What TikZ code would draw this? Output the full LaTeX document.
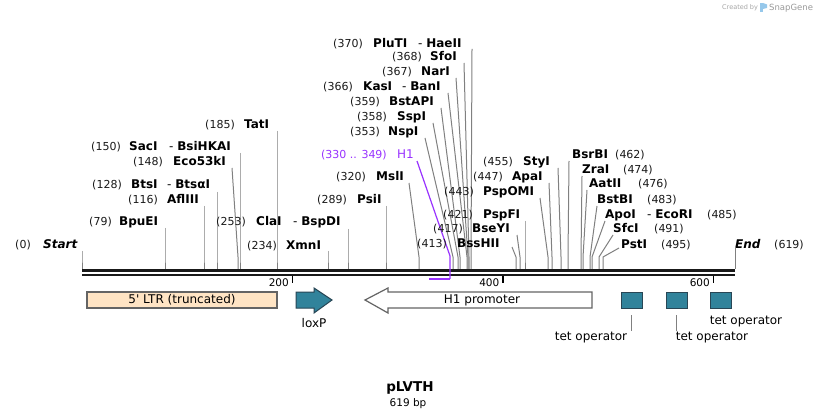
\documentclass[tikz,border=0pt]{standalone}
\usepackage{fontspec}
\setmainfont{DejaVu Sans}
\newfontfamily\plainfont[Ligatures=TeXOff]{DejaVu Sans}
\definecolor{cutgray}{RGB}{128,128,128}
\definecolor{tealf}{RGB}{49,131,155}
\definecolor{tealb}{RGB}{40,70,85}
\definecolor{ltrfill}{RGB}{255,228,196}
\definecolor{fborder}{RGB}{100,100,100}
\definecolor{purp}{RGB}{153,51,255}
\definecolor{numc}{RGB}{25,25,25}
\definecolor{logoblue}{RGB}{150,200,235}
\newcommand\cutl[4]{%
  \coordinate (t#1) at (#2,#3);
  \coordinate (k#1) at (#4,257);
  \coordinate (b#1) at (#4,269);
  \draw[cut] (t#1) -- (k#1) -- (b#1);}
\tikzset{
  num/.style={font=\fontsize{11}{12}\selectfont, inner sep=0pt, text=numc},
  enz/.style={font=\fontsize{12}{13}\bfseries\selectfont, inner sep=0pt},
  enzi/.style={font=\fontsize{12}{13}\bfseries\itshape\selectfont, inner sep=0pt},
  cut/.style={draw=cutgray, line width=1pt},
  bb/.style={draw=black!90, line width=2.8pt},
  tick/.style={draw=black, line width=1.5pt},
  ticklab/.style={font=\fontsize{10.5}{12}\selectfont, inner sep=0pt},
  flab/.style={font=\fontsize{12}{14}\selectfont, inner sep=0pt},
  featbox/.style={draw=fborder, line width=1.2pt},
  tealbox/.style={draw=tealb, fill=tealf, line width=1pt},
}
\begin{document}
\begin{tikzpicture}[x=1pt,y=-1pt]
\useasboundingbox (0,0) rectangle (818,419);
\fill[white] (0,0) rectangle (818,419);

% watermark
\node[font=\fontsize{6.5}{7}\selectfont, text=black!35, anchor=base west, inner sep=0] (wm1) at (722,10) {Created by};
\fill[logoblue] (760,3) rectangle (763,12);
\fill[logoblue] (763,3) -- (767,4.5) -- (767,8) -- (763,9) -- cycle;
\node[font=\fontsize{8.5}{9}\selectfont, text=black!40, anchor=base west, inner sep=0] (wm2) at (769,10.5) {SnapGene};

% backbone
\draw[bb] (82,270.4) -- (735,270.4);
\draw[bb] (82,275) -- (735,275);
% ticks
\draw[tick] (292.5,276) -- (292.5,283);
\node[ticklab, anchor=base east] (tk200) at (289,287) {200};
\draw[tick] (503,276) -- (503,283);
\node[ticklab, anchor=base east] (tk400) at (499.5,287) {400};
\draw[tick] (713.5,276) -- (713.5,283);
\node[ticklab, anchor=base east] (tk600) at (710,287) {600};

% ---- labels, left side
\node[num, anchor=base east] (n0) at (31,249) {(0)};
\node[enzi, anchor=base west] (e0) at (43,249) {Start};
\cutl{0}{82}{251}{82}
\node[num, anchor=base east] (n1) at (112,226) {(79)};
\node[enz, anchor=base west] (e1) at (119,226) {BpuEI};
\cutl{1}{165}{228}{165}
\node[num, anchor=base east] (n2) at (158,204) {(116)};
\node[enz, anchor=base west] (e2) at (167,204) {AflIII};
\cutl{2}{204}{206}{204}
\node[num, anchor=base east] (n3) at (122,189) {(128)};
\node[enz, anchor=base west] (e3) at (131,189) {BtsI};
\node[enz, anchor=base west] (e3b) at (167,189) {\mdseries -\ \bfseries BtsαI};
\cutl{3}{217}{192}{217}
\node[num, anchor=base east] (n4) at (163,166) {(148)};
\node[enz, anchor=base west] (e4) at (173,166) {Eco53kI};
\cutl{4}{232}{168}{238}
\node[num, anchor=base east] (n5) at (121,151) {(150)};
\node[enz, anchor=base west] (e5) at (129,151) {SacI};
\node[enz, anchor=base west] (e5b) at (169,151) {\mdseries -\ \bfseries BsiHKAI};
\cutl{5}{240}{153}{240}
\node[num, anchor=base east] (n6) at (235,129) {(185)};
\node[enz, anchor=base west] (e6) at (244,129) {TatI};
\cutl{6}{277}{131}{277}
\node[num, anchor=base east] (n7) at (246,226) {(253)};
\node[enz, anchor=base west] (e7) at (256,226) {ClaI};
\node[enz, anchor=base west] (e7b) at (293,226) {\mdseries -\ \bfseries BspDI};
\cutl{7}{348}{229}{348}
\node[num, anchor=base east] (n8) at (277,250) {(234)};
\node[enz, anchor=base west] (e8) at (286,250) {XmnI};
\cutl{8}{328}{251}{328}
\node[num, anchor=base east] (n9) at (347,204) {(289)};
\node[enz, anchor=base west] (e9) at (357,204) {PsiI};
\cutl{9}{386}{206}{386}
\node[num, anchor=base east] (n10) at (366,181) {(320)};
\node[enz, anchor=base west] (e10) at (376,181) {MslI};
\cutl{10}{409}{183}{419}
% H1 feature (purple)
\node[num, text=purp, anchor=base east] (nh1) at (387,159) {(330 .. 349)};
\node[flab, text=purp, anchor=base west] (eh1) at (397,159) {H1};
\coordinate (th1) at (417,161);
\coordinate (kh1) at (450,256);
\coordinate (bh1) at (450,279);
\coordinate (sh1) at (429,279);
\draw[purp, line width=1.2pt] (th1) -- (kh1) -- (bh1);
\draw[purp, line width=2pt] (bh1) -- (sh1);

% top cluster
\node[num, anchor=base east] (n11) at (380,136) {(353)};
\node[enz, anchor=base west] (e11) at (388,136) {NspI};
\cutl{11}{425}{138}{453}
\node[num, anchor=base east] (n12) at (387,121) {(358)};
\node[enz, anchor=base west] (e12) at (397,121) {SspI};
\cutl{12}{433}{123}{458}
\node[num, anchor=base east] (n13) at (380,106) {(359)};
\node[enz, anchor=base west] (e13) at (389,106) {BstAPI};
\cutl{13}{441}{108}{460}
\node[num, anchor=base east] (n14) at (353,91) {(366)};
\node[enz, anchor=base west] (e14) at (363,91) {KasI};
\node[enz, anchor=base west] (e14b) at (402,91) {\mdseries -\ \bfseries BanI};
\cutl{14}{448}{93}{467}
\node[num, anchor=base east] (n15) at (412,76) {(367)};
\node[enz, anchor=base west] (e15) at (421,76) {NarI};
\cutl{15}{456}{78}{468}
\node[num, anchor=base east] (n16) at (422,61) {(368)};
\node[enz, anchor=base west] (e16) at (430,61) {SfoI};
\cutl{16}{464}{63}{469}
\node[num, anchor=base east] (n17) at (363,48) {(370)};
\node[enz, anchor=base west] (e17) at (373,48) {PluTI};
\node[enz, anchor=base west] (e17b) at (418,48) {\mdseries -\ \bfseries HaeII};
\cutl{17}{472}{49}{471}

% middle-right, number first
\node[num, anchor=base east] (n18) at (447,248) {(413)};
\node[enz, anchor=base west] (e18) at (457,248) {BssHII};
\cutl{18}{512}{247}{516}
\node[num, anchor=base east] (n19) at (463,233) {(417)};
\node[enz, anchor=base west] (e19) at (472,233) {BseYI};
\cutl{19}{517}{235}{520}
\node[num, anchor=base east] (n20) at (473,219) {(421)};
\node[enz, anchor=base west] (e20) at (483,219) {PspFI};
\cutl{20}{525}{221}{525}
\node[num, anchor=base east] (n21) at (474,196) {(443)};
\node[enz, anchor=base west] (e21) at (483,196) {PspOMI};
\cutl{21}{540}{198}{548}
\node[num, anchor=base east] (n22) at (503,181) {(447)};
\node[enz, anchor=base west] (e22) at (512,181) {ApaI};
\cutl{22}{549}{183}{552}
\node[num, anchor=base east] (n23) at (513,166) {(455)};
\node[enz, anchor=base west] (e23) at (523,166) {StyI};
\cutl{23}{558}{168}{561}

% right side, name first
\node[enz, anchor=base west] (e24) at (572,159) {BsrBI};
\node[num, anchor=base west] (n24) at (615,159) {(462)};
\cutl{24}{569}{161}{568}
\node[enz, anchor=base west] (e25) at (582,174) {ZraI};
\node[num, anchor=base west] (n25) at (623,174) {(474)};
\cutl{25}{582}{176}{581}
\node[enz, anchor=base west] (e26) at (589,188) {AatII};
\node[num, anchor=base west] (n26) at (638,188) {(476)};
\cutl{26}{587}{190}{583}
\node[enz, anchor=base west] (e27) at (597,204) {BstBI};
\node[num, anchor=base west] (n27) at (647,204) {(483)};
\cutl{27}{597}{206}{590}
\node[enz, anchor=base west] (e28) at (605,219) {ApoI};
\node[enz, anchor=base west] (e28b) at (647,219) {\mdseries -\ \bfseries EcoRI};
\node[num, anchor=base west] (n28) at (707,219) {(485)};
\cutl{28}{605}{221}{592}
\node[enz, anchor=base west] (e29) at (613,233) {SfcI};
\node[num, anchor=base west] (n29) at (654,233) {(491)};
\cutl{29}{613}{235}{599}
\node[enz, anchor=base west] (e30) at (621,249) {PstI};
\node[num, anchor=base west] (n30) at (661,249) {(495)};
\cutl{30}{619}{248}{603}
\node[enzi, anchor=base west] (e31) at (735,249) {End};
\node[num, anchor=base west] (n31) at (774,249) {(619)};
\cutl{31}{735}{247}{735}

% ---- features
\draw[featbox, fill=ltrfill] (87,292) rectangle (277,308);
\node[flab, font=\fontsize{12}{14}\plainfont] (ltr) at (182,300) {5' LTR (truncated)};
\draw[tealbox] (296,292) -- (314,292) -- (314,288) -- (332,300) -- (314,313) -- (314,308) -- (296,308) -- cycle;
\node[flab] (loxp) at (314,323) {loxP};
\draw[featbox, fill=white] (592,292) -- (388,292) -- (388,288) -- (365,300) -- (388,313) -- (388,308) -- (592,308) -- cycle;
\node[flab] (h1p) at (482,300) {H1 promoter};
\draw[tealbox] (621,292) rectangle (642,308);
\draw[tealbox] (666,292) rectangle (687,308);
\draw[tealbox] (710,292) rectangle (731,308);
\coordinate (to1a) at (631.5,315);
\coordinate (to1b) at (631.5,331);
\draw[cut] (to1a) -- (to1b);
\node[flab] (tet1) at (591,338) {tet operator};
\coordinate (to2a) at (676.5,315);
\coordinate (to2b) at (676.5,331);
\draw[cut] (to2a) -- (to2b);
\node[flab] (tet2) at (712,338) {tet operator};
\node[flab] (tet3) at (746,322) {tet operator};

% title
\node[font=\fontsize{13.5}{15}\bfseries\selectfont, inner sep=0] (title) at (410,388) {pLVTH};
\node[font=\fontsize{10.5}{12}\selectfont, inner sep=0] (size) at (408,404) {619 bp};
\end{tikzpicture}
\end{document}
